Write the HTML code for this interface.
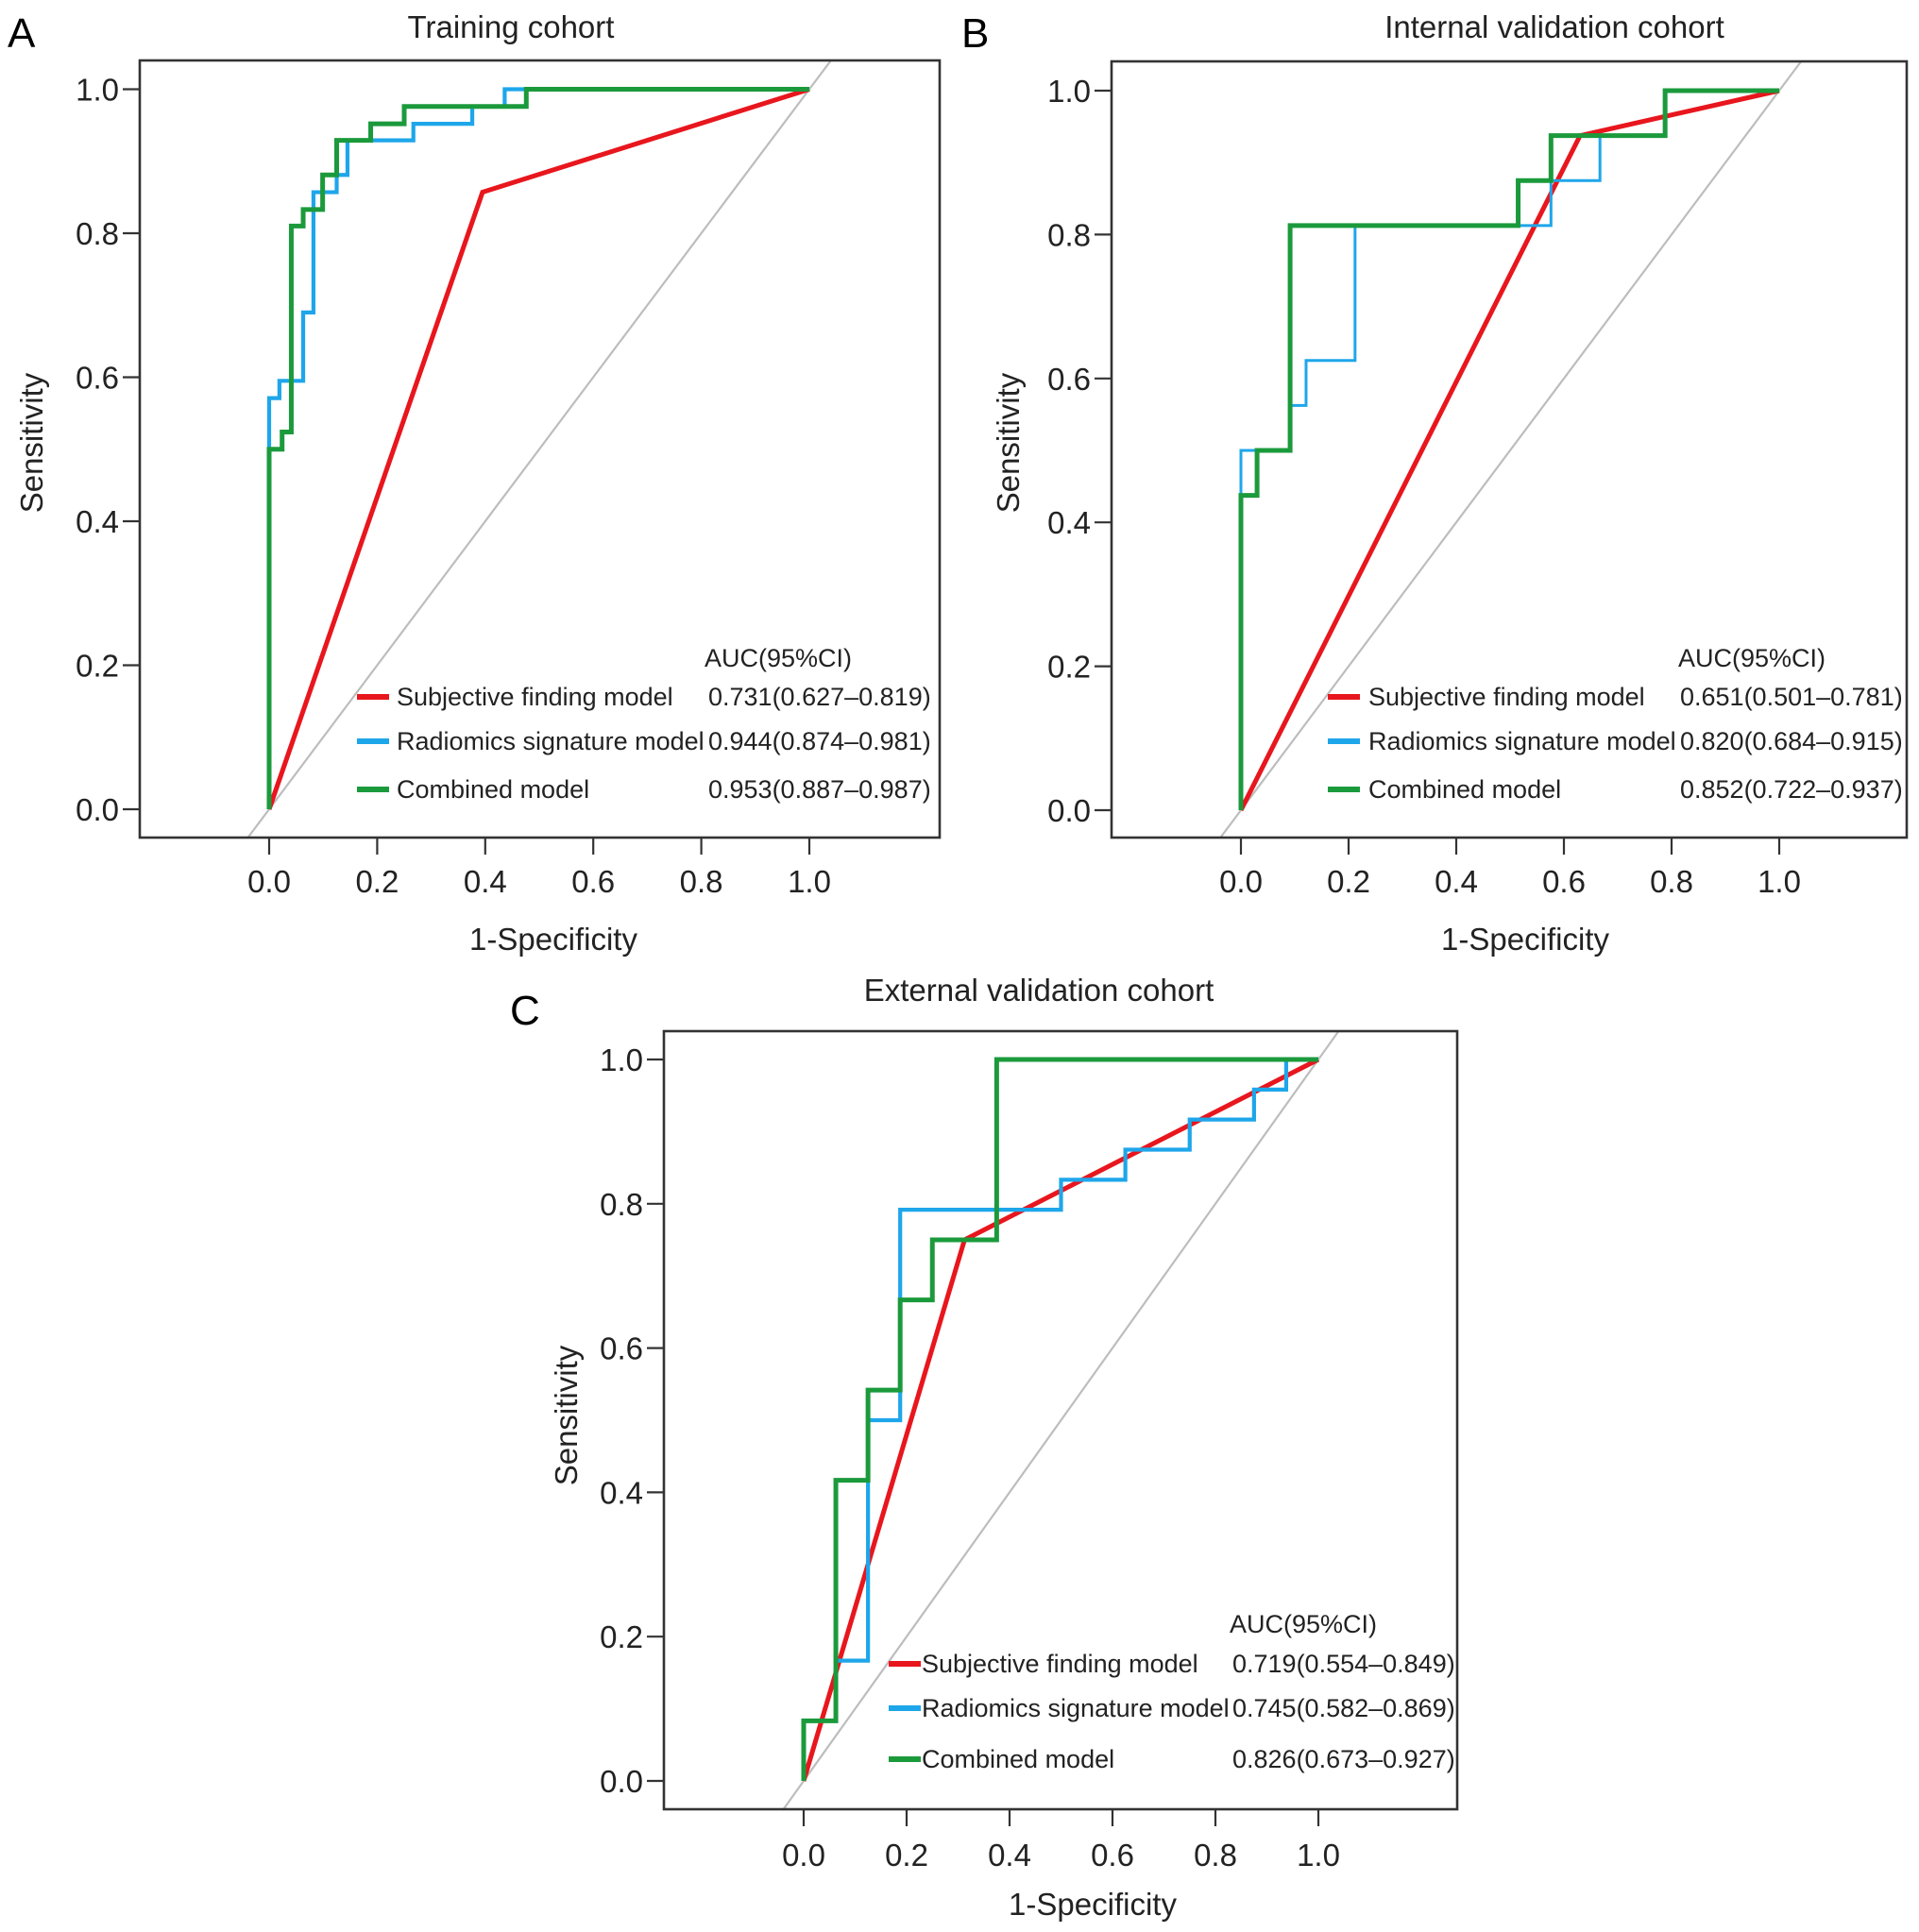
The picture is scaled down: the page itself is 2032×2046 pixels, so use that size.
<!DOCTYPE html>
<html><head><meta charset="utf-8"><style>
html,body{margin:0;padding:0;background:#fff;}
svg{display:block;font-family:"Liberation Sans",Arial,sans-serif;}
</style></head><body>
<svg id="fig" width="2032" height="2046" viewBox="0 0 2032 2046" xmlns="http://www.w3.org/2000/svg"></svg>
<script>
// ---- data ----
const panelIds = ["A","B","C"];
const panelTitles = ["Training cohort","Internal validation cohort","External validation cohort"];
const tickValues = [0,0.2,0.4,0.6,0.8,1.0];
const tickLabels = ["0.0","0.2","0.4","0.6","0.8","1.0"];
const seriesNames = ["Subjective finding model","Radiomics signature model","Combined model"];
const aucA = ["0.731(0.627\u20130.819)","0.944(0.874\u20130.981)","0.953(0.887\u20130.987)"];
const aucB = ["0.651(0.501\u20130.781)","0.820(0.684\u20130.915)","0.852(0.722\u20130.937)"];
const aucC = ["0.719(0.554\u20130.849)","0.745(0.582\u20130.869)","0.826(0.673\u20130.927)"];
// ROC points [fpr, sens]
const redA = [[0,0],[0.395,0.857],[1,1]];
const blueA = [[0,0],[0,0.571],[0.019,0.571],[0.019,0.595],[0.063,0.595],[0.063,0.690],[0.082,0.690],[0.082,0.857],[0.125,0.857],[0.125,0.881],[0.145,0.881],[0.145,0.929],[0.267,0.929],[0.267,0.952],[0.376,0.952],[0.376,0.976],[0.436,0.976],[0.436,1],[1,1]];
const greenA = [[0,0],[0,0.5],[0.024,0.5],[0.024,0.524],[0.041,0.524],[0.041,0.810],[0.063,0.810],[0.063,0.833],[0.099,0.833],[0.099,0.881],[0.125,0.881],[0.125,0.929],[0.188,0.929],[0.188,0.952],[0.25,0.952],[0.25,0.976],[0.476,0.976],[0.476,1],[1,1]];
const redB = [[0,0],[0.63,0.9375],[1,1]];
const blueB = [[0,0],[0,0.5],[0.0914,0.5],[0.0914,0.5625],[0.121,0.5625],[0.121,0.625],[0.212,0.625],[0.212,0.8125],[0.576,0.8125],[0.576,0.875],[0.667,0.875],[0.667,0.9375],[0.788,0.9375],[0.788,1],[1,1]];
const greenB = [[0,0],[0,0.4375],[0.03,0.4375],[0.03,0.5],[0.0914,0.5],[0.0914,0.8125],[0.515,0.8125],[0.515,0.875],[0.576,0.875],[0.576,0.9375],[0.788,0.9375],[0.788,1],[1,1]];
const redC = [[0,0],[0.3125,0.75],[1,1]];
const blueC = [[0,0],[0,0.0833],[0.0625,0.0833],[0.0625,0.1667],[0.125,0.1667],[0.125,0.5],[0.1875,0.5],[0.1875,0.7917],[0.5,0.7917],[0.5,0.8333],[0.625,0.8333],[0.625,0.875],[0.75,0.875],[0.75,0.9167],[0.875,0.9167],[0.875,0.9583],[0.9375,0.9583],[0.9375,1],[1,1]];
const greenC = [[0,0],[0,0.0833],[0.0625,0.0833],[0.0625,0.4167],[0.125,0.4167],[0.125,0.5417],[0.1875,0.5417],[0.1875,0.6667],[0.25,0.6667],[0.25,0.75],[0.375,0.75],[0.375,1],[1,1]];

const NS="http://www.w3.org/2000/svg";
const svg=document.getElementById('fig');
function mk(tag,attrs,parent){const e=document.createElementNS(NS,tag);for(const k in attrs)e.setAttribute(k,attrs[k]);(parent||svg).appendChild(e);return e;}

const layouts=[
 {L:148,R:995,T:64,B:887,x0:285,x1:857,y0:857,y1:94.5,titleX:541,titleY:40,letX:8,letY:50,xtY:945,xtitleX:586,xtitleY:1006,sensX:34,sensY:469,legT:697,rows:[738,785,836],lineX:378,textX:420,valX:750,aucX:746},
 {L:1177,R:2019,T:65,B:887,x0:1314,x1:1884,y0:858,y1:96,titleX:1646,titleY:40,letX:1018,letY:50,xtY:945,xtitleX:1615,xtitleY:1006,sensX:1068,sensY:469,legT:697,rows:[738,785,836],lineX:1406,textX:1449,valX:1779,aucX:1777},
 {L:703,R:1543,T:1092,B:1916,x0:851,x1:1396,y0:1886,y1:1122,titleX:1100,titleY:1060,letX:540,letY:1085,xtY:1976,xtitleX:1157,xtitleY:2028,sensX:600,sensY:1499,legT:1720,rows:[1762,1809,1863],lineX:941,textX:976,valX:1305,aucX:1302}
];
const reds=[redA,redB,redC],blues=[blueA,blueB,blueC],greens=[greenA,greenB,greenC],aucs=[aucA,aucB,aucC];
const colors=["#e8161d","#1ea6ea","#1b9a3c"];

layouts.forEach((p,i)=>{
  const g=mk('g',{});
  
  
  const sx=v=>p.x0+(p.x1-p.x0)*v, sy=v=>p.y0-(p.y0-p.y1)*v;
  const clipId='clip'+i;
  const cp=mk('clipPath',{id:clipId},g); mk('rect',{x:p.L,y:p.T,width:p.R-p.L,height:p.B-p.T},cp);
  const let_=mk('text',{x:p.letX,y:p.letY,'font-size':44},g); let_.textContent=panelIds[i];
   
  const tt=mk('text',{x:p.titleX,y:p.titleY,'font-size':33,'text-anchor':'middle',fill:'#222'},g); tt.textContent=panelTitles[i];
   
  const dg=mk('line',{x1:sx(-0.1),y1:sy(-0.1),x2:sx(1.1),y2:sy(1.1),stroke:'#bdbdbd','stroke-width':2.2,'clip-path':`url(#${clipId})`},g);
   
  const draw=(pts,col,w,name)=>{const pl=mk('polyline',{points:pts.map(q=>sx(q[0])+','+sy(q[1])).join(' '),fill:'none',stroke:col,'stroke-width':w,'stroke-linejoin':'miter'},g);
     };
  draw(reds[i],colors[0],5,'subjective-finding-curve');
  draw(blues[i],colors[1],i===1?3:4.2,'radiomics-signature-curve');
  draw(greens[i],colors[2],5,'combined-model-curve');
  const bx=mk('rect',{x:p.L,y:p.T,width:p.R-p.L,height:p.B-p.T,fill:'none',stroke:'#333','stroke-width':2.6},g);
   
  tickValues.forEach((v,k)=>{
    mk('line',{x1:p.L,x2:p.L-18,y1:sy(v),y2:sy(v),stroke:'#333','stroke-width':2.2},g);
    const yl=mk('text',{x:p.L-22,y:sy(v)+12,'font-size':33,'text-anchor':'end',fill:'#222'},g); yl.textContent=tickLabels[k];
     
    mk('line',{x1:sx(v),x2:sx(v),y1:p.B,y2:p.B+18,stroke:'#333','stroke-width':2.2},g);
    const xl=mk('text',{x:sx(v),y:p.xtY,'font-size':33,'text-anchor':'middle',fill:'#222'},g); xl.textContent=tickLabels[k];
     
  });
  const xt=mk('text',{x:p.xtitleX,y:p.xtitleY,'font-size':33,'text-anchor':'middle',fill:'#222'},g); xt.textContent='1-Specificity';
   
  const yt=mk('text',{x:0,y:0,'font-size':33,'text-anchor':'middle',fill:'#222',transform:`translate(${p.sensX+11},${p.sensY}) rotate(-90)`},g); yt.textContent='Sensitivity';
   
  const au=mk('text',{x:p.aucX,y:p.legT+9,'font-size':27,fill:'#222'},g); au.textContent='AUC(95%CI)';
   
  seriesNames.forEach((s,k)=>{
    const y=p.rows[k];
    const ln=mk('line',{x1:p.lineX,x2:p.lineX+34,y1:y,y2:y,stroke:colors[k],'stroke-width':6},g);
     
    const t=mk('text',{x:p.textX,y:y+9,'font-size':27,fill:'#222'},g); t.textContent=s;
     
    const v=mk('text',{x:p.valX,y:y+9,'font-size':27,fill:'#222'},g); v.textContent=aucs[i][k];
     
  });
});
</script>
</body></html>
